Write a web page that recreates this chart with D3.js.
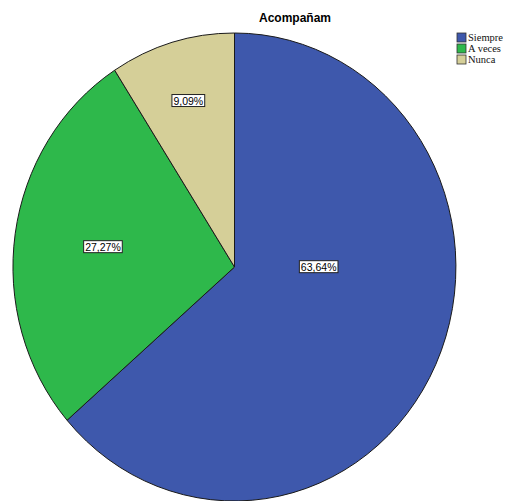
<!DOCTYPE html>
<html>
<head>
<meta charset="utf-8">
<script src="https://cdn.jsdelivr.net/npm/d3@7"></script>
<style>
  body { margin: 0; background: #fff; }
  svg { display: block; }
</style>
</head>
<body>
<div id="container"></div>
<script>
// data
const categories = ['Siempre', 'A veces', 'Nunca']
const values = [63.64, 27.27, 9.09]
const labels = ['63,64%', '27,27%', '9,09%']
const colors = ['#3e58ac', '#2eb84b', '#d5cf98']
// how far out (share of radius) each label sits
const labelRadius = [0.38, 0.6, 0.74]

const w = 508
const h = 501

// elliptical pie, like the SPSS output
const cx = 234.5
const cy = 267
const rx = 221.5
const ry = 234

const svg = d3.select('#container')
  .append('svg')
  .attr('width', w)
  .attr('height', h)

const pie = d3.pie().sort(null).value(d => d)
const arcs = pie(values)

// unit arc, stretched into an ellipse
const arc = d3.arc().innerRadius(0).outerRadius(1)

const pieG = svg.append('g')
  .attr('transform', `translate(${cx},${cy}) scale(${rx},${ry})`)

pieG.selectAll('path')
  .data(arcs)
  .enter()
  .append('path')
  .attr('d', arc)
  .style('fill', (d, i) => colors[i])
  .style('stroke', '#1a1a1a')
  .style('stroke-width', 1)
  .attr('vector-effect', 'non-scaling-stroke')

// labels
const labelG = svg.append('g')
  .attr('transform', `translate(${cx},${cy})`)

arcs.forEach((d, i) => {
  const end = Math.min(d.endAngle, d.startAngle + Math.PI)
  const mid = (d.startAngle + end) / 2
  const x = Math.sin(mid) * rx * labelRadius[i]
  const y = -Math.cos(mid) * ry * labelRadius[i]

  const g = labelG.append('g').attr('transform', `translate(${x},${y})`)
  const t = g.append('text')
    .attr('text-anchor', 'middle')
    .attr('dy', '0.35em')
    .style('font-family', '"Liberation Sans", Arial, sans-serif')
    .style('font-size', '10.5px')
    .style('fill', '#000')
    .text(labels[i])
  const bb = t.node().getBBox()
  g.insert('rect', 'text')
    .attr('x', bb.x - 1.5)
    .attr('y', bb.y)
    .attr('width', bb.width + 3)
    .attr('height', bb.height)
    .style('fill', '#fff')
    .style('stroke', '#222')
    .style('stroke-width', 1)
})

// title
svg.append('text')
  .attr('x', 295)
  .attr('y', 22)
  .attr('text-anchor', 'middle')
  .style('font-family', '"Liberation Sans", Arial, sans-serif')
  .style('font-weight', 'bold')
  .style('font-size', '12px')
  .text('Acompañam')

// legend
const legend = svg.append('g')
  .attr('transform', 'translate(457,33)')

const row = legend.selectAll('g')
  .data(categories)
  .enter()
  .append('g')
  .attr('transform', (d, i) => `translate(0,${i * 11})`)

row.append('rect')
  .attr('width', 9)
  .attr('height', 9)
  .style('fill', (d, i) => colors[i])
  .style('stroke', '#333')
  .style('stroke-width', 0.8)

row.append('text')
  .attr('x', 11)
  .attr('y', 8)
  .style('font-family', '"Liberation Serif", "DejaVu Serif", serif')
  .style('font-size', '10.5px')
  .style('fill', '#111')
  .text(d => d)
</script>
</body>
</html>
